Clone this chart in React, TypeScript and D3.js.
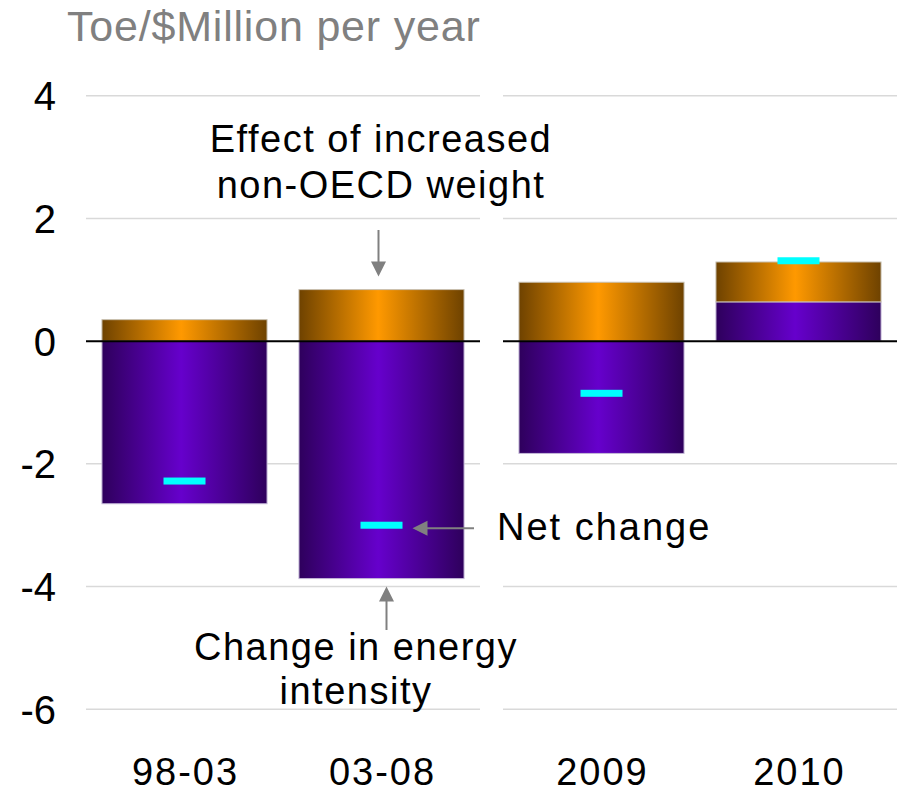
import { scaleBand, scaleLinear } from "d3";

// data
const leftCategories = ["98-03", "03-08"];
const rightCategories = ["2009", "2010"];
const categories = [...leftCategories, ...rightCategories];
const intensityChange = [-2.65, -3.87, -1.83, 0.64];
const weightEffect = [0.35, 0.84, 0.96, 0.65];
const netChange = [-2.28, -3.0, -0.85, 1.31];
const yTicks = [4, 2, 0, -2, -4, -6];

const WIDTH = 897;
const HEIGHT = 793;
const FONT = "'Liberation Sans', Arial, Helvetica, sans-serif";
const ARROW = "#808080";

const y = scaleLinear().domain([-6, 4]).range([709.3, 95.7]);

const xLeft = scaleBand<string>()
  .domain(leftCategories)
  .range([86, 480])
  .paddingInner(0.162)
  .paddingOuter(0.081);

const xRight = scaleBand<string>()
  .domain(rightCategories)
  .range([503, 897])
  .paddingInner(0.162)
  .paddingOuter(0.081);

const panels = [xLeft, xRight];

function xOf(cat: string) {
  return leftCategories.includes(cat) ? xLeft(cat)! : xRight(cat)!;
}
const bw = xLeft.bandwidth();

export default function App() {
  const bars = categories.map((cat, i) => {
    const x0 = xOf(cat);
    const base = Math.max(0, intensityChange[i]);
    return {
      cat,
      x0,
      cx: x0 + bw / 2,
      purpleTop: y(Math.max(0, intensityChange[i])),
      purpleBottom: y(Math.min(0, intensityChange[i])),
      orangeTop: y(base + weightEffect[i]),
      orangeBottom: y(base),
      net: y(netChange[i]),
    };
  });

  const b2 = bars[1]; // 03-08 carries the annotations

  return (
    <svg
      width={WIDTH}
      height={HEIGHT}
      viewBox={`0 0 ${WIDTH} ${HEIGHT}`}
      style={{ position: "absolute", left: 0, top: 0, background: "#fff" }}
      fontFamily={FONT}
    >
      <defs>
        <linearGradient id="gOrange" x1="0" x2="1" y1="0" y2="0">
          <stop offset="0%" stopColor="#6e4200" />
          <stop offset="48%" stopColor="#ff9900" />
          <stop offset="100%" stopColor="#6e4200" />
        </linearGradient>
        <linearGradient id="gPurple" x1="0" x2="1" y1="0" y2="0">
          <stop offset="0%" stopColor="#2e005c" />
          <stop offset="48%" stopColor="#6600cc" />
          <stop offset="100%" stopColor="#2e005c" />
        </linearGradient>
      </defs>

      {/* title */}
      <text x={67} y={41} fontSize={43} fill="#808080" letterSpacing={0.8}>
        Toe/$Million per year
      </text>

      {/* gridlines per panel */}
      {panels.map((p, pi) =>
        yTicks
          .filter((t) => t !== 0)
          .map((t) => (
            <line
              key={`g${pi}-${t}`}
              x1={p.range()[0]}
              x2={p.range()[1]}
              y1={y(t)}
              y2={y(t)}
              stroke="#d9d9d9"
              strokeWidth={1.5}
            />
          ))
      )}

      {/* y tick labels */}
      {yTicks.map((t) => (
        <text
          key={`yt${t}`}
          x={56}
          y={y(t)}
          dy="0.36em"
          textAnchor="end"
          fontSize={40}
          fill="#000"
        >
          {t}
        </text>
      ))}

      {/* bars */}
      {bars.map((b) => (
        <g key={b.cat}>
          <rect
            x={b.x0}
            y={b.purpleTop}
            width={bw}
            height={b.purpleBottom - b.purpleTop}
            fill="url(#gPurple)"
            stroke="#c4b8d8"
            strokeWidth={1}
          />
          <rect
            x={b.x0}
            y={b.orangeTop}
            width={bw}
            height={b.orangeBottom - b.orangeTop}
            fill="url(#gOrange)"
            stroke="#c8c0b0"
            strokeWidth={1}
          />
        </g>
      ))}

      {/* zero line */}
      {panels.map((p, pi) => (
        <line
          key={`z${pi}`}
          x1={p.range()[0]}
          x2={p.range()[1]}
          y1={y(0)}
          y2={y(0)}
          stroke="#000"
          strokeWidth={2}
        />
      ))}

      {/* net change markers */}
      {bars.map((b) => (
        <rect
          key={`n${b.cat}`}
          x={b.cx - 21}
          y={b.net - 3.5}
          width={42}
          height={7}
          fill="#00ffff"
        />
      ))}

      {/* x labels */}
      {bars.map((b) => (
        <text
          key={`xl${b.cat}`}
          x={b.cx + 1}
          y={785}
          textAnchor="middle"
          fontSize={38}
          letterSpacing={2}
          fill="#000"
        >
          {b.cat}
        </text>
      ))}

      {/* annotation: effect of increased non-OECD weight */}
      <text x={381} y={152} textAnchor="middle" fontSize={38} letterSpacing={1.5} fill="#000">
        Effect of increased
      </text>
      <text x={381} y={198} textAnchor="middle" fontSize={38} letterSpacing={1.5} fill="#000">
        non-OECD weight
      </text>
      <line x1={b2.cx - 3} x2={b2.cx - 3} y1={230} y2={262} stroke={ARROW} strokeWidth={2} />
      <path
        d={`M${b2.cx - 10.5},${b2.orangeTop - 28} L${b2.cx + 4.5},${b2.orangeTop - 28} L${b2.cx - 3},${b2.orangeTop - 13} Z`}
        fill={ARROW}
      />

      {/* annotation: net change */}
      <line x1={b2.cx + 34} x2={474} y1={b2.net + 3} y2={b2.net + 3} stroke={ARROW} strokeWidth={2} />
      <path
        d={`M${b2.cx + 31},${b2.net + 3} L${b2.cx + 46},${b2.net - 4.5} L${b2.cx + 46},${b2.net + 10.5} Z`}
        fill={ARROW}
      />
      <text x={497} y={540} fontSize={38} letterSpacing={2} fill="#000">
        Net change
      </text>

      {/* annotation: change in energy intensity */}
      <line x1={b2.cx + 5} x2={b2.cx + 5} y1={b2.purpleBottom + 20} y2={630} stroke={ARROW} strokeWidth={2} />
      <path
        d={`M${b2.cx + 5},${b2.purpleBottom + 8} L${b2.cx + 12.5},${b2.purpleBottom + 23} L${b2.cx - 2.5},${b2.purpleBottom + 23} Z`}
        fill={ARROW}
      />
      <text x={356} y={660} textAnchor="middle" fontSize={38} letterSpacing={1.5} fill="#000">
        Change in energy
      </text>
      <text x={356} y={704} textAnchor="middle" fontSize={38} letterSpacing={1.5} fill="#000">
        intensity
      </text>
    </svg>
  );
}
